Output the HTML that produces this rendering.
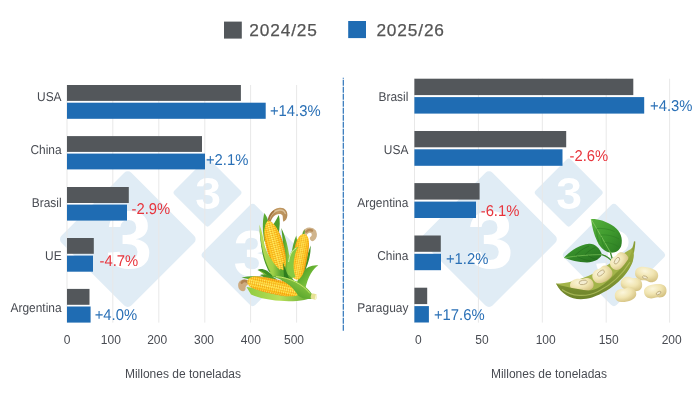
<!DOCTYPE html><html><head><meta charset="utf-8"><title>Chart</title><style>
html,body{margin:0;padding:0;background:#fff}svg{display:block}
text{font-family:"Liberation Sans",Arial,sans-serif}
.c{font-size:12.85px;text-rendering:geometricPrecision;fill:#484b52;text-anchor:end}
.t{font-size:12px;fill:#484b52;text-anchor:middle}
.v{font-size:15.6px;text-rendering:geometricPrecision}
.lg{font-size:17.3px;fill:#555;letter-spacing:.85px;stroke:#555;stroke-width:.25px}
.w{font-weight:bold;fill:#fff;text-anchor:middle}
</style></head><body>
<svg width="700" height="400" viewBox="0 0 700 400">
<rect width="700" height="400" fill="#fff"/>
<rect x="78.37" y="189.77" width="98.85" height="98.85" rx="5" fill="#e0ecf5" transform="rotate(45 127.8 239.2)"/>
<rect x="182.68" y="167.78" width="49.64" height="49.64" rx="3" fill="#e0ecf5" transform="rotate(45 207.5 192.6)"/>
<rect x="215.51" y="217.81" width="74.39" height="74.39" rx="4" fill="#e0ecf5" transform="rotate(45 252.7 255)"/>
<text class="w" font-size="82.4" transform="translate(129.1 268.4) scale(1.01 1)">3</text>
<text class="w" font-size="44.1" transform="translate(208 208.5) scale(1.05 1)">3</text>
<text class="w" font-size="64.0" transform="translate(252.3 276.2) scale(1.05 1)">3</text>
<rect x="439.57" y="189.77" width="98.85" height="98.85" rx="5" fill="#e0ecf5" transform="rotate(45 489.0 239.2)"/>
<rect x="543.88" y="167.78" width="49.64" height="49.64" rx="3" fill="#e0ecf5" transform="rotate(45 568.7 192.6)"/>
<rect x="576.71" y="217.81" width="74.39" height="74.39" rx="4" fill="#e0ecf5" transform="rotate(45 613.9 255)"/>
<text class="w" font-size="82.4" transform="translate(490.29999999999995 268.4) scale(1.01 1)">3</text>
<text class="w" font-size="44.1" transform="translate(569.2 208.5) scale(1.05 1)">3</text>
<text class="w" font-size="64.0" transform="translate(613.5 276.2) scale(1.05 1)">3</text>
<rect x="66.5" y="85" width="1" height="237.6" fill="#e8e8e8"/>
<rect x="112.3" y="85" width="1" height="237.6" fill="#e8e8e8"/>
<rect x="158.3" y="85" width="1" height="237.6" fill="#e8e8e8"/>
<rect x="204.3" y="85" width="1" height="237.6" fill="#e8e8e8"/>
<rect x="250.1" y="85" width="1" height="237.6" fill="#e8e8e8"/>
<rect x="296.1" y="85" width="1" height="237.6" fill="#e8e8e8"/>
<rect x="414.0" y="78.7" width="1" height="243.9" fill="#e8e8e8"/>
<rect x="477.9" y="78.7" width="1" height="243.9" fill="#e8e8e8"/>
<rect x="541.8" y="78.7" width="1" height="243.9" fill="#e8e8e8"/>
<rect x="605.7" y="78.7" width="1" height="243.9" fill="#e8e8e8"/>
<rect x="669.1" y="78.7" width="1" height="243.9" fill="#e8e8e8"/>
<rect x="67" y="85" width="173.90" height="15.90" fill="#53575b"/>
<rect x="67" y="102.7" width="198.70" height="16.10" fill="#1f6cb3"/>
<rect x="67" y="136.1" width="135.00" height="15.80" fill="#53575b"/>
<rect x="67" y="153.6" width="138.00" height="15.80" fill="#1f6cb3"/>
<rect x="67" y="187" width="61.80" height="16.00" fill="#53575b"/>
<rect x="67" y="204.6" width="60.00" height="16.00" fill="#1f6cb3"/>
<rect x="67" y="238" width="26.80" height="15.80" fill="#53575b"/>
<rect x="67" y="255.6" width="26.00" height="16.10" fill="#1f6cb3"/>
<rect x="67" y="288.9" width="22.50" height="15.90" fill="#53575b"/>
<rect x="67" y="306.5" width="23.60" height="16.10" fill="#1f6cb3"/>
<rect x="414.4" y="78.7" width="218.90" height="16.40" fill="#53575b"/>
<rect x="414.4" y="97.1" width="229.80" height="16.50" fill="#1f6cb3"/>
<rect x="414.4" y="131" width="151.80" height="16.30" fill="#53575b"/>
<rect x="414.4" y="149.3" width="148.10" height="16.50" fill="#1f6cb3"/>
<rect x="414.4" y="183.1" width="65.20" height="16.50" fill="#53575b"/>
<rect x="414.4" y="201.6" width="61.60" height="16.40" fill="#1f6cb3"/>
<rect x="414.4" y="235.5" width="26.40" height="16.30" fill="#53575b"/>
<rect x="414.4" y="253.8" width="26.60" height="16.40" fill="#1f6cb3"/>
<rect x="414.4" y="287.7" width="12.80" height="16.40" fill="#53575b"/>
<rect x="414.4" y="306.1" width="14.50" height="16.40" fill="#1f6cb3"/>
<text class="c" transform="translate(61.6 101) scale(.93 1)">USA</text>
<text class="c" transform="translate(61.6 154) scale(.93 1)">China</text>
<text class="c" transform="translate(61.6 207) scale(.93 1)">Brasil</text>
<text class="c" transform="translate(61.6 260) scale(.93 1)">UE</text>
<text class="c" transform="translate(61.6 312) scale(.93 1)">Argentina</text>
<text class="c" transform="translate(408.4 101) scale(.93 1)">Brasil</text>
<text class="c" transform="translate(408.4 154) scale(.93 1)">USA</text>
<text class="c" transform="translate(408.4 207) scale(.93 1)">Argentina</text>
<text class="c" transform="translate(408.4 260) scale(.93 1)">China</text>
<text class="c" transform="translate(408.4 312) scale(.93 1)">Paraguay</text>
<text class="t" x="67.2" y="344">0</text>
<text class="t" x="110.8" y="344">100</text>
<text class="t" x="157.2" y="344">200</text>
<text class="t" x="204" y="344">300</text>
<text class="t" x="250.8" y="344">400</text>
<text class="t" x="294" y="344">500</text>
<text class="t" x="418.4" y="344">0</text>
<text class="t" x="481.9" y="344">50</text>
<text class="t" x="545.7" y="344">100</text>
<text class="t" x="608.7" y="344">150</text>
<text class="t" x="671.7" y="344">200</text>
<text class="t" x="183" y="378">Millones de toneladas</text>
<text class="t" x="549" y="378">Millones de toneladas</text>
<text class="v" transform="translate(269.97 116) scale(.95 1)" fill="#2a70b6">+14.3%</text>
<text class="v" transform="translate(205.97 165) scale(.95 1)" fill="#2a70b6">+2.1%</text>
<text class="v" transform="translate(131.50 214) scale(.95 1)" fill="#e8343c">-2.9%</text>
<text class="v" transform="translate(99.50 266) scale(.95 1)" fill="#e8343c">-4.7%</text>
<text class="v" transform="translate(94.67 320) scale(.95 1)" fill="#2a70b6">+4.0%</text>
<text class="v" transform="translate(650.07 111) scale(.95 1)" fill="#2a70b6">+4.3%</text>
<text class="v" transform="translate(569.50 161) scale(.95 1)" fill="#e8343c">-2.6%</text>
<text class="v" transform="translate(480.70 216) scale(.95 1)" fill="#e8343c">-6.1%</text>
<text class="v" transform="translate(445.97 264) scale(.95 1)" fill="#2a70b6">+1.2%</text>
<text class="v" transform="translate(433.97 320) scale(.95 1)" fill="#2a70b6">+17.6%</text>
<line x1="343.3" y1="77.8" x2="343.3" y2="331" stroke="#2d74ba" stroke-width="1.2" stroke-dasharray="6 1" stroke-dashoffset="5"/>
<rect x="224" y="21.6" width="17.80" height="17.00" fill="#53575b"/>
<text class="lg" x="249.3" y="36">2024/25</text>
<rect x="348.2" y="21" width="17.80" height="17.10" fill="#1f6cb3"/>
<text class="lg" x="376.4" y="36">2025/26</text>
<g id="corn"><defs>
<linearGradient id="cg" x1="0" x2="1" y1="0" y2="0"><stop offset="0" stop-color="#f2a510"/><stop offset=".18" stop-color="#ffd023"/><stop offset=".5" stop-color="#ffe94f"/><stop offset=".82" stop-color="#ffce20"/><stop offset="1" stop-color="#eb9a0d"/></linearGradient>
<pattern id="ck" width="2.4" height="2.1" patternUnits="userSpaceOnUse"><path d="M0,0H2.4" stroke="#ea8200" stroke-width=".8" opacity=".85"/><path d="M0,0V2.1" stroke="#ee8e00" stroke-width=".7" opacity=".75"/><rect x=".7" y=".6" width="1.1" height=".7" rx=".35" fill="#fff7b8" opacity=".55"/></pattern>
<linearGradient id="lg1" x1="0" x2="1" y1="0" y2="0"><stop offset="0" stop-color="#3a8a22"/><stop offset=".45" stop-color="#5cab30"/><stop offset="1" stop-color="#a9d650"/></linearGradient>
<linearGradient id="lg2" x1="0" x2="1" y1="0" y2="1"><stop offset="0" stop-color="#3a8a22"/><stop offset=".5" stop-color="#6db835"/><stop offset="1" stop-color="#a6d64e"/></linearGradient>
<linearGradient id="lg3" x1="0" x2="1" y1="0" y2="0"><stop offset="0" stop-color="#8fcb3f"/><stop offset=".5" stop-color="#b8df58"/><stop offset="1" stop-color="#5aa530"/></linearGradient>
<linearGradient id="lg4" x1="0" x2="1" y1="0" y2="0"><stop offset="0" stop-color="#b8de58"/><stop offset=".6" stop-color="#9fd047"/><stop offset="1" stop-color="#4f9e2c"/></linearGradient>
<linearGradient id="lg5" x1="0" x2="1" y1="1" y2="0"><stop offset="0" stop-color="#2f7d1f"/><stop offset=".45" stop-color="#63ad31"/><stop offset="1" stop-color="#a9d84f"/></linearGradient>
<linearGradient id="sk" x1="0" x2="1" y1="0" y2="0"><stop offset="0" stop-color="#a87a42"/><stop offset=".55" stop-color="#c39a62"/><stop offset="1" stop-color="#b58c58"/></linearGradient>
</defs>
<path d="M264.4,213 C268,218 269.5,224 268.5,232 L264.5,242 C262.3,231 262.3,221 264.4,213Z" fill="#58a82d"/>
<path d="M278.75,215 C280.3,220 280,227 278.5,234 L272.5,226 C275,222 277,218 278.75,215Z" fill="#4f9e2c"/>
<path d="M281.25,228 C285.5,236 289.5,250 290.5,268 L287,279 L280,274 C284.5,259 283.5,243 281.25,228Z" fill="url(#lg1)"/>
<path d="M267.6,221.2 C268.3,214.5 272.5,208.8 279.5,207.8 C284.5,207.3 287.6,210.8 287.4,215.3 C287.2,218.6 285.6,221 283.4,221.8 C282.6,219.6 283,217.6 282.6,215.8 C281.8,213.6 278.6,213.4 276,214.8 C273.2,216.3 271.5,219 270.6,222Z" fill="url(#sk)"/>
<path d="M269.3,219.5 C270.8,214 274.5,210.6 279.5,210 C282.5,209.8 284.6,211.3 285.3,213.6" fill="none" stroke="#ddc49c" stroke-width="1.3" stroke-linecap="round" opacity=".9"/>
<path d="M268.6,220.8 C269.3,217 271,213.6 273.6,211.4" fill="none" stroke="#96652f" stroke-width="1.5" stroke-linecap="round" opacity=".8"/>
<g transform="translate(274.7 245.3) rotate(-14.6) scale(1.03 0.99)"><path d="M0,-26 C5,-24 8.5,-12 8.5,0 C8.5,12 7,22 3,26 Q0,28 -3,26 C-7,22 -8.5,12 -8.5,0 C-8.5,-12 -5,-24 0,-26Z" fill="url(#cg)"/><path d="M0,-26 C5,-24 8.5,-12 8.5,0 C8.5,12 7,22 3,26 Q0,28 -3,26 C-7,22 -8.5,12 -8.5,0 C-8.5,-12 -5,-24 0,-26Z" fill="url(#ck)"/></g>
<path d="M259.4,224.4 C262,231 263.3,238 264.6,245 C266.5,253 270.5,258 273,262 C276,266.5 279,269 281.5,271 L282,278 L272,277 C268.5,271 265,263 263,253 C261,243 259.6,233 259.4,224.4Z" fill="url(#lg4)"/>
<path d="M259.4,224.4 C260,235 261.8,247 264.2,256 C265.8,262 268,267.5 270.5,272 L269,271.5 C266,266 263.8,260 262.6,254 C260.6,244 259.6,234 259.4,224.4Z" fill="#4c9a2a"/>
<path d="M296.25,235.6 C297.6,241 297.2,247 295.7,253 L290.5,263 C291.3,252 293,243 296.25,235.6Z" fill="#5aa530"/>
<path d="M310.6,245.6 C311,254 308.5,264 304,273 L298,282 C303,269 307,256 310.6,245.6Z" fill="#3f9027"/>
<path d="M296,287 C298,274 306,264.2 318.3,265.4 C313,268.5 308,276 305,290 Z" fill="url(#lg2)"/>
<path d="M305.2,232.8 C307,229.6 311.5,229.2 313.8,232.2 C315,235 314.2,237.4 312.5,238.4" fill="none" stroke="#d0b48c" stroke-width="5.2" stroke-linecap="round"/>
<path d="M306.3,231.8 C308,229.9 310.5,229.7 312,230.6" fill="none" stroke="#b48a58" stroke-width="2.4" stroke-linecap="round"/>
<path d="M304.6,229.3 C305.1,232 304.6,234 303.6,236.2 L301.6,237.5 C302.2,234.2 303.2,231.5 304.6,229.3Z" fill="#5aa530"/>
<g transform="translate(300.3 256.25) rotate(10.3) scale(0.84 0.865)"><path d="M0,-26 C5,-26 8,-19 8.4,-8 C8.6,0 8.5,8 8,14 C7.2,21 5,25 3,26.5 Q0,28 -3,26.5 C-5,25 -7.2,21 -8,14 C-8.5,8 -8.6,0 -8.4,-8 C-8,-19 -5,-26 0,-26Z" fill="url(#cg)"/><path d="M0,-26 C5,-26 8,-19 8.4,-8 C8.6,0 8.5,8 8,14 C7.2,21 5,25 3,26.5 Q0,28 -3,26.5 C-5,25 -7.2,21 -8,14 C-8.5,8 -8.6,0 -8.4,-8 C-8,-19 -5,-26 0,-26Z" fill="url(#ck)"/></g>
<path d="M287,268 C287.5,257 291.5,248 298.6,246.8 C295.6,250.5 294,257 293.6,264 C293.4,269 294,273 295.5,277 L289,279Z" fill="#86c942"/>
<path d="M288.6,262 C289.5,255 292.3,249.8 296.3,248.2" fill="none" stroke="#dff3b0" stroke-width=".9"/>
<path d="M280,268.5 C283,270 288,274 293,279 L296,285 L282,282Z" fill="#58a62e"/>
<path d="M283,262 C285,268 287,274 290,280 L284,281 C284,275 283.5,268 283,262Z" fill="#2f7d1f"/>
<path d="M257.5,270 C261,267.5 268,269.5 273,276.5 L268,278.5 C265,274.5 262,272 257.5,270Z" fill="#3f8f24"/>
<path d="M258.5,270.6 C262,271 266,273.5 269,277.8 L267,278.3 C264.5,275 262,272.6 258.5,270.6Z" fill="#8cc63f"/>
<path d="M260,275 C265,273.6 271,275.5 277,279.5 L268,280.5 C265,278 262.5,276.2 260,275Z" fill="#4c9a2a"/>
<path d="M241.5,277.6 C250,275.6 262,275.6 277,279 L262,280.5 C254,279.5 247,279.3 241.5,277.6Z" fill="#5aa530"/>
<path d="M248.5,280.5 C245,278.5 239.5,279 238.3,283.5 C237.5,287.5 239.5,291 243,291.2 C245,291.2 246,289.5 245.5,287.5 C246,285.5 247.5,284.5 249,284Z" fill="#cdab80"/>
<path d="M248,282.2 C245.5,280.6 243,280.8 241.8,282.6" fill="none" stroke="#b08250" stroke-width="2.6" stroke-linecap="round"/>
<path d="M246.5,287 C256,288 280,292 313,296.5 C307,303 270,303.3 251,294.6 Z" fill="url(#lg3)"/>
<g transform="translate(272.9 286.3) rotate(-78) scale(1.09 1.0)"><path d="M0,-26 C3.5,-26 5.6,-22 6.3,-14 C6.9,-8 7,0 6.8,8 C6.5,18 5,24 3,26 Q0,28 -3,26 C-5,24 -6.5,18 -6.8,8 C-7,0 -6.9,-8 -6.3,-14 C-5.6,-22 -3.5,-26 0,-26Z" fill="url(#cg)"/><path d="M0,-26 C3.5,-26 5.6,-22 6.3,-14 C6.9,-8 7,0 6.8,8 C6.5,18 5,24 3,26 Q0,28 -3,26 C-5,24 -6.5,18 -6.8,8 C-7,0 -6.9,-8 -6.3,-14 C-5.6,-22 -3.5,-26 0,-26Z" fill="url(#ck)"/></g>
<path d="M271,276 C288,275.5 306,284 312,294 L312,298.8 C305,299.6 299,297.6 297,293.8 C292,286 284,280 271,276Z" fill="url(#lg5)"/>
<path d="M276,276.6 C290,277.5 303,284.5 310,293.5" fill="none" stroke="#c5e66a" stroke-width="1"/>
<g transform="rotate(12 313.7 296.5)"><rect x="310.8" y="293.7" width="6" height="5.7" rx="1.8" fill="#e6e294"/><rect x="315.2" y="294" width="1.6" height="5.1" rx=".8" fill="#f8f5d0"/></g></g>
<g id="soy"><defs>
<radialGradient id="bg" cx=".4" cy=".3" r=".75"><stop offset="0" stop-color="#fbf6dc"/><stop offset=".5" stop-color="#f1e5b2"/><stop offset="1" stop-color="#d3c07f"/></radialGradient>
<linearGradient id="lf1" x1="0" x2="1" y1="0" y2="1"><stop offset="0" stop-color="#56b03c"/><stop offset=".5" stop-color="#3f9a2e"/><stop offset="1" stop-color="#2a7a22"/></linearGradient>
<linearGradient id="lf2" x1="0" x2="1" y1="0" y2="1"><stop offset="0" stop-color="#3f9e30"/><stop offset="1" stop-color="#256f1f"/></linearGradient>
<linearGradient id="pd" x1="0" x2="0" y1="0" y2="1"><stop offset="0" stop-color="#9cae40"/><stop offset=".5" stop-color="#869a35"/><stop offset="1" stop-color="#6c8229"/></linearGradient>
</defs>
<path d="M602,254.6 C606,256 609.5,258 612,261.5" fill="none" stroke="#3c8a2a" stroke-width="1.3"/>
<path d="M610.3,251.5 C611,255 612,258.5 613.5,262" fill="none" stroke="#3c8a2a" stroke-width="1.3"/>
<path d="M591,219 C597,218.6 606.5,221 614,226.5 C620.5,231.2 623.3,238.5 621.2,246 C619.5,250.7 615,253.3 610.5,252.6 C605,252 600.5,248 597.5,242 C593.5,234 592,226 591,219Z" fill="url(#lf1)"/>
<path d="M591,219 C597,229 604,241 610.5,252.6" fill="none" stroke="#8fd06a" stroke-width=".7"/>
<path d="M596.5,228.5 C602,228 609,229 614.5,231.5 M600,235 C606,234.5 613,235.5 619,239 M604.5,242.5 C609,242.5 615,244 619.5,247.5 M596.8,229 C596.5,233 597.5,238 599,242 M601.5,237 C601.5,241 603,245.5 605.5,249" fill="none" stroke="#2a7a22" stroke-width=".6" opacity=".8"/>
<path d="M564,257.8 C570,251 579,245 589,243.8 C594.5,243.3 599.5,247.5 602,254.6 C599.5,259.5 594,262.3 587,262.4 C578,262.4 570.5,260.5 564,257.8Z" fill="url(#lf2)"/>
<path d="M564,257.8 C576,255.8 590,254.6 602,254.6" fill="none" stroke="#7cc35a" stroke-width=".7"/>
<path d="M575,255.5 C579,251.5 584,248 589,246 M585,254.8 C588,251.5 592,248.5 595.5,247.5 M577,256.5 C581,258.5 586,260.5 591,261 M588,255.5 C591,257.5 594.5,259.3 597.5,259.5" fill="none" stroke="#1f651b" stroke-width=".6" opacity=".8"/>
<path d="M556,283.6 C566,283.6 580,280.3 594,273.3 C608,266 619,256 627.5,251 C630,249.6 631.5,248.7 632.3,247.5 L633.2,252 C633.8,256 633,260 631.5,263.5 C626,276 613,288.5 592,296 C578,300.5 564,296.5 556,283.6Z" fill="#a3b44a"/>
<path d="M631.6,250 C632.8,246.5 633.6,244 634,241.2 L635.3,241.5 C635.3,245 634.7,249 633.8,253.5Z" fill="#8a9e38"/>
<g transform="translate(581.8 284.9) rotate(-4)"><path d="M-11.80,0.34 C-11.80,-5.10 -6.49,-6.80 -2.36,-6.26 C0,-5.78 1.18,-5.78 3.54,-6.46 C8.26,-7.14 11.80,-4.08 11.80,0.34 C11.80,4.76 7.08,6.80 0,6.80 C-7.08,6.80 -11.80,4.76 -11.80,0.34Z" fill="url(#bg)"/><ellipse cx="1.5" cy="-2.4" rx="4.2" ry="2.18" transform="rotate(-6 1.5 -2.4)" fill="#f3ecd0" stroke="#b8a678" stroke-width=".8"/></g>
<g transform="translate(602.3 274.6) rotate(-28)"><path d="M-10.30,0.38 C-10.30,-5.70 -5.67,-7.60 -2.06,-6.99 C0,-6.46 1.03,-6.46 3.09,-7.22 C7.21,-7.98 10.30,-4.56 10.30,0.38 C10.30,5.32 6.18,7.60 0,7.60 C-6.18,7.60 -10.30,5.32 -10.30,0.38Z" fill="url(#bg)"/><ellipse cx="-0.5" cy="-2" rx="4" ry="2.08" transform="rotate(-8 -0.5 -2)" fill="#f3ecd0" stroke="#b8a678" stroke-width=".8"/></g>
<g transform="translate(619.2 261.2) rotate(-38)"><path d="M-9.80,0.36 C-9.80,-5.40 -5.39,-7.20 -1.96,-6.62 C0,-6.12 0.98,-6.12 2.94,-6.84 C6.86,-7.56 9.80,-4.32 9.80,0.36 C9.80,5.04 5.88,7.20 0,7.20 C-5.88,7.20 -9.80,5.04 -9.80,0.36Z" fill="url(#bg)"/><ellipse cx="-1.5" cy="-1.8" rx="3.8" ry="1.98" transform="rotate(-18 -1.5 -1.8)" fill="#f3ecd0" stroke="#b8a678" stroke-width=".8"/></g>
<path d="M556,283.6 C562,286.5 570,287.8 578,289 C586,290.5 592,291.5 598,288 C606,283.5 611,278 616,273 C622,268 627.5,261.5 630.5,254.5 C631.3,252.5 632,250.5 632.5,249 C634.2,252.5 634.2,257 632.6,262 C627.5,275.5 613,290 592,297.5 C577,302 563,297.8 556,283.6Z" fill="url(#pd)"/>
<path d="M562,289.5 C572,296.5 586,297.5 598,291.5 C612,284.5 623,273.5 630,262" fill="none" stroke="#b9c866" stroke-width="1.2" opacity=".7"/>
<g transform="translate(646.6 274.4) rotate(12)"><path d="M-11.70,-0.35 C-11.70,5.32 -6.44,7.10 -2.34,6.53 C0,6.03 1.17,6.03 3.51,6.74 C8.19,7.46 11.70,4.26 11.70,-0.35 C11.70,-4.97 7.02,-7.10 0,-7.10 C-7.02,-7.10 -11.70,-4.97 -11.70,-0.35Z" fill="url(#bg)"/><ellipse cx="-1" cy="3.3" rx="2.6" ry="1.35" transform="rotate(5 -1 3.3)" fill="#f3ecd0" stroke="#b8a678" stroke-width=".8"/></g>
<g transform="translate(631.5 284.1) rotate(10)"><path d="M-10.80,0.35 C-10.80,-5.32 -5.94,-7.10 -2.16,-6.53 C0,-6.03 1.08,-6.03 3.24,-6.74 C7.56,-7.46 10.80,-4.26 10.80,0.35 C10.80,4.97 6.48,7.10 0,7.10 C-6.48,7.10 -10.80,4.97 -10.80,0.35Z" fill="url(#bg)"/></g>
<g transform="translate(625.5 294.6) rotate(-12)"><path d="M-10.80,0.35 C-10.80,-5.25 -5.94,-7.00 -2.16,-6.44 C0,-5.95 1.08,-5.95 3.24,-6.65 C7.56,-7.35 10.80,-4.20 10.80,0.35 C10.80,4.90 6.48,7.00 0,7.00 C-6.48,7.00 -10.80,4.90 -10.80,0.35Z" fill="url(#bg)"/></g>
<g transform="translate(655.3 291.3) rotate(-8)"><path d="M-11.30,-0.35 C-11.30,5.25 -6.22,7.00 -2.26,6.44 C0,5.95 1.13,5.95 3.39,6.65 C7.91,7.35 11.30,4.20 11.30,-0.35 C11.30,-4.90 6.78,-7.00 0,-7.00 C-6.78,-7.00 -11.30,-4.90 -11.30,-0.35Z" fill="url(#bg)"/><ellipse cx="3" cy="2.2" rx="2.6" ry="1.35" transform="rotate(-20 3 2.2)" fill="#f3ecd0" stroke="#b8a678" stroke-width=".8"/></g></g>
</svg></body></html>
